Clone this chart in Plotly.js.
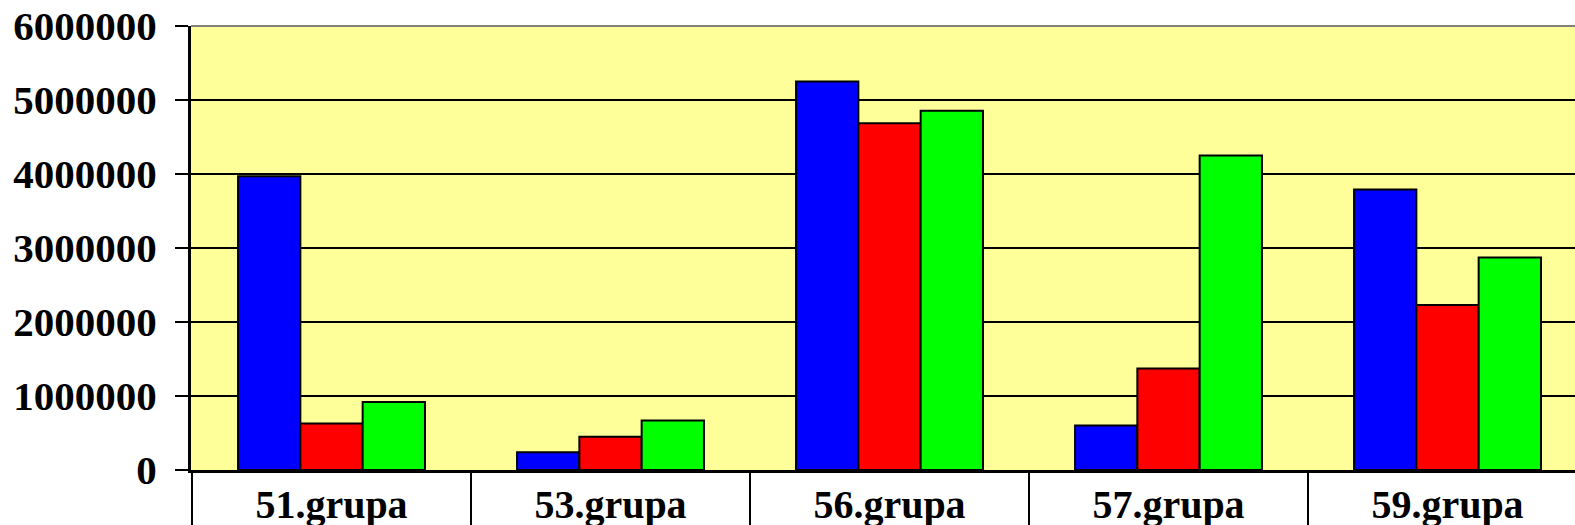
<!DOCTYPE html>
<html>
<head>
<meta charset="utf-8">
<script src="https://cdn.plot.ly/plotly-3.0.1.min.js"></script>
<style>
html,body{margin:0;padding:0;overflow:hidden;background:#fff;}
#chart{width:1600px;height:525px;}
</style>
</head>
<body>
<div id="chart"></div>
<script>
const categories = ["51.grupa", "53.grupa", "56.grupa", "57.grupa", "59.grupa"];
const seriesBlue  = [3970000, 240000, 5250000, 600000, 3790000];
const seriesRed   = [630000, 450000, 4685000, 1370000, 2230000];
const seriesGreen = [920000, 670000, 4856000, 4250000, 2870000];
const yTicks = [0, 1000000, 2000000, 3000000, 4000000, 5000000, 6000000];

const fontFam = '"Liberation Serif", "Times New Roman", serif';
function bar(vals, color, name) {
  return {
    type: 'bar', x: categories, y: vals, name: name,
    marker: {color: color, line: {color: '#000', width: 2}},
    hoverinfo: 'skip'
  };
}
const data = [
  bar(seriesBlue, '#0000FF', 'Series 1'),
  bar(seriesRed, '#FF0000', 'Series 2'),
  bar(seriesGreen, '#00FF00', 'Series 3')
];

const shapes = [];
for (let i = 0; i <= categories.length; i++) {
  shapes.push({type: 'line', xref: 'x', yref: 'paper', x0: i - 0.5, x1: i - 0.5, y0: 0, y1: -0.2,
    line: {color: '#000', width: 2}, layer: 'above'});
}
shapes.push({type: 'line', xref: 'paper', yref: 'paper', x0: 0, x1: 1, y0: 1, y1: 1,
  line: {color: '#808080', width: 2}, layer: 'above'});

const layout = {
  width: 1600, height: 525, autosize: false,
  margin: {l: 191, r: 12, t: 26, b: 55, pad: 0},
  paper_bgcolor: '#FFFFFF', plot_bgcolor: '#FFFF99',
  showlegend: false,
  barmode: 'group', bargap: 0.33, bargroupgap: 0,
  font: {family: fontFam, color: '#000', size: 40, weight: 'bold'},
  xaxis: {
    type: 'category', showgrid: false, zeroline: false,
    showline: true, linecolor: '#000', linewidth: 3,
    ticks: '', tickfont: {family: fontFam, size: 40, weight: 'bold', color: '#000'},
    ticklabelstandoff: -3
  },
  yaxis: {
    range: [0, 6000000], tickvals: yTicks, ticktext: yTicks.map(v => String(v)),
    showgrid: true, gridcolor: '#000', gridwidth: 2,
    zeroline: false, showline: true, linecolor: '#000', linewidth: 3,
    ticks: 'outside', ticklen: 13, tickwidth: 2, tickcolor: '#000',
    tickfont: {family: fontFam, size: 41, weight: 'bold', color: '#000'},
    ticklabelstandoff: 10
  },
  shapes: shapes
};
Plotly.newPlot('chart', data, layout, {staticPlot: true, displayModeBar: false});
</script>
</body>
</html>
